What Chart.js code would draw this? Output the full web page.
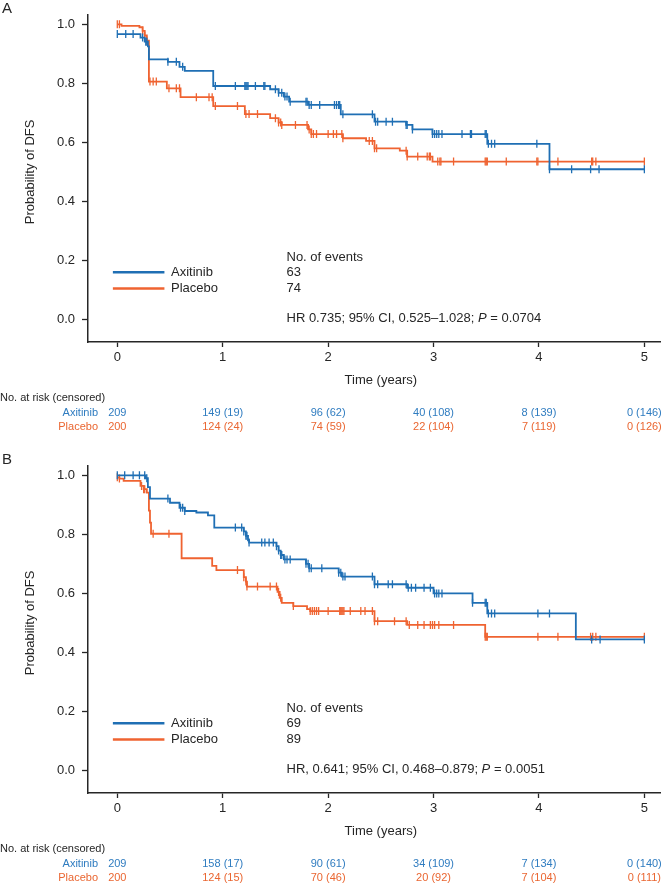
<!DOCTYPE html>
<html>
<head>
<meta charset="utf-8">
<script src="https://cdn.jsdelivr.net/npm/chart.js@4.4.1/dist/chart.umd.min.js"></script>
<style>
  body { margin: 0; background: #fff; width: 666px; height: 885px; overflow: hidden; }
  .panel { position: absolute; left: 0; width: 666px; }
</style>
</head>
<body>
<div class="panel" style="top:0;height:451px"><canvas id="chartA" width="666" height="451"></canvas></div>
<div class="panel" style="top:451px;height:434px"><canvas id="chartB" width="666" height="434"></canvas></div>
<script>
const xTicks = [0, 1, 2, 3, 4, 5];
const yTicks = [0, 0.2, 0.4, 0.6, 0.8, 1.0];
const groups = ['Axitinib', 'Placebo'];

// Panel A - step points (time in years, survival after the step) and censor times
const aAxitinibT = [0, 0.22, 0.26, 0.29, 0.30, 0.48, 0.59, 0.64, 0.91, 1.45, 1.53, 1.58, 1.63, 1.81, 2.12, 2.44, 2.74, 2.80, 2.99, 3.51, 4.10, 5.00];
const aAxitinibS = [0.967, 0.955, 0.941, 0.925, 0.881, 0.873, 0.856, 0.842, 0.791, 0.780, 0.768, 0.755, 0.738, 0.727, 0.695, 0.670, 0.659, 0.644, 0.628, 0.595, 0.509, 0.509];
const aAxitinibCens = [0, 0.08, 0.15, 0.24, 0.27, 0.28, 0.48, 0.56, 0.62, 0.93, 1.12, 1.21, 1.22, 1.23, 1.24, 1.31, 1.39, 1.40, 1.50, 1.53, 1.56, 1.59, 1.61, 1.64, 1.79, 1.80, 1.82, 1.84, 1.92, 2.06, 2.08, 2.10, 2.11, 2.14, 2.42, 2.45, 2.47, 2.55, 2.61, 2.74, 2.75, 2.80, 2.99, 3.01, 3.03, 3.05, 3.08, 3.27, 3.35, 3.36, 3.49, 3.50, 3.52, 3.55, 3.58, 3.98, 4.10, 4.31, 4.49, 4.57, 5.00];
const aPlaceboT = [0, 0.04, 0.21, 0.24, 0.26, 0.28, 0.30, 0.47, 0.60, 0.91, 1.21, 1.45, 1.53, 1.56, 1.81, 1.84, 2.14, 2.36, 2.44, 2.68, 2.75, 2.99, 5.00];
const aPlaceboS = [1.0, 0.995, 0.99, 0.978, 0.962, 0.945, 0.806, 0.783, 0.753, 0.723, 0.696, 0.682, 0.667, 0.659, 0.644, 0.628, 0.614, 0.605, 0.580, 0.572, 0.552, 0.535, 0.535];
const aPlaceboCens = [0, 0.02, 0.24, 0.26, 0.28, 0.31, 0.34, 0.37, 0.49, 0.56, 0.59, 0.75, 0.87, 0.90, 0.93, 1.14, 1.22, 1.25, 1.33, 1.50, 1.53, 1.55, 1.56, 1.69, 1.80, 1.82, 1.84, 1.86, 1.89, 2.00, 2.05, 2.08, 2.13, 2.14, 2.39, 2.42, 2.44, 2.46, 2.74, 2.75, 2.85, 2.94, 2.96, 2.97, 3.04, 3.06, 3.07, 3.19, 3.49, 3.50, 3.51, 3.69, 3.98, 3.99, 4.18, 4.50, 4.51, 4.54, 5.00];
const aEvents = ['63', '74'];
const aHR = ['HR 0.735; 95% CI, 0.525\u20131.028; ', 'P', ' = 0.0704'];
const aRiskAxitinib = ['209', '149 (19)', '96 (62)', '40 (108)', '8 (139)', '0 (146)'];
const aRiskPlacebo = ['200', '124 (24)', '74 (59)', '22 (104)', '7 (119)', '0 (126)'];

// Panel B
const bAxitinibT = [0, 0.27, 0.29, 0.31, 0.50, 0.59, 0.64, 0.75, 0.86, 0.92, 1.20, 1.22, 1.24, 1.25, 1.51, 1.53, 1.55, 1.58, 1.79, 1.82, 2.10, 2.13, 2.44, 2.75, 3.00, 3.37, 3.51, 4.35, 5.00];
const bAxitinibS = [1.0, 0.99, 0.96, 0.921, 0.907, 0.890, 0.879, 0.874, 0.864, 0.823, 0.81, 0.795, 0.78, 0.772, 0.76, 0.745, 0.73, 0.715, 0.70, 0.685, 0.67, 0.657, 0.631, 0.619, 0.600, 0.568, 0.532, 0.444, 0.444];
const bAxitinibCens = [0, 0.07, 0.15, 0.21, 0.26, 0.28, 0.48, 0.60, 0.62, 0.64, 1.12, 1.18, 1.20, 1.22, 1.23, 1.25, 1.37, 1.40, 1.44, 1.48, 1.51, 1.53, 1.55, 1.56, 1.59, 1.61, 1.64, 1.79, 1.81, 1.82, 1.84, 1.94, 2.10, 2.12, 2.14, 2.16, 2.42, 2.44, 2.47, 2.57, 2.61, 2.74, 2.76, 2.79, 2.83, 2.91, 2.97, 3.01, 3.03, 3.05, 3.08, 3.37, 3.49, 3.50, 3.52, 3.55, 3.58, 3.99, 4.10, 4.50, 4.58, 5.00];
const bPlaceboT = [0, 0.02, 0.06, 0.22, 0.25, 0.28, 0.30, 0.31, 0.32, 0.61, 0.90, 0.94, 1.20, 1.22, 1.23, 1.52, 1.54, 1.56, 1.67, 1.80, 1.83, 2.44, 2.75, 3.49, 5.00];
const bPlaceboS = [0.993, 0.989, 0.981, 0.964, 0.953, 0.941, 0.88, 0.84, 0.802, 0.719, 0.693, 0.679, 0.655, 0.64, 0.623, 0.605, 0.585, 0.568, 0.557, 0.547, 0.540, 0.506, 0.493, 0.453, 0.453];
const bPlaceboCens = [0, 0.02, 0.23, 0.25, 0.26, 0.34, 0.49, 1.14, 1.20, 1.22, 1.23, 1.33, 1.45, 1.51, 1.53, 1.55, 1.67, 1.83, 1.85, 1.87, 1.89, 1.91, 2.00, 2.11, 2.12, 2.13, 2.14, 2.15, 2.21, 2.31, 2.35, 2.42, 2.44, 2.47, 2.63, 2.74, 2.77, 2.85, 2.91, 2.97, 2.99, 3.01, 3.05, 3.19, 3.49, 3.50, 3.51, 3.99, 4.18, 4.49, 4.51, 4.54, 5.00];
const bEvents = ['69', '89'];
const bHR = ['HR, 0.641; 95% CI, 0.468\u20130.879; ', 'P', ' = 0.0051'];
const bRiskAxitinib = ['209', '158 (17)', '90 (61)', '34 (109)', '7 (134)', '0 (140)'];
const bRiskPlacebo = ['200', '124 (15)', '70 (46)', '20 (92)', '7 (104)', '0 (111)'];

const BLUE = '#1f6fb4';
const ORANGE = '#ef6331';
const BLUE_TXT = '#2f7cc0';
const ORANGE_TXT = '#ea6631';
const INK = '#262626';
const FONT = "'Liberation Sans', Arial, sans-serif";
const NARROW = "'Liberation Sans Narrow', 'Liberation Sans', Arial, sans-serif";

// value of the step curve at time t (used to place censor marks)
function stepValue(ts, ss, t) {
    let v = ss[0];
    for (let i = 0; i < ts.length; i++) {
        if (ts[i] <= t + 1e-9) v = ss[i];
    }
    return v;
}

function makePanel(id, letter, height, series, events, hr, risk) {
    const datasets = [];
    series.forEach(g => {
        datasets.push({
            type: 'line',
            data: g.t.map((x, i) => ({x: x, y: g.s[i]})),
            stepped: true,
            borderColor: g.color,
            borderWidth: 1.8,
            pointRadius: 0,
            fill: false
        });
        datasets.push({
            type: 'scatter',
            data: g.cens.map(x => ({x: x, y: stepValue(g.t, g.s, x)})),
            pointStyle: 'line',
            rotation: 90,
            pointRadius: 4,
            borderColor: g.color,
            pointBorderColor: g.color,
            borderWidth: 1.3,
            showLine: false
        });
    });

    const extras = {
        id: 'extras',
        afterDraw(chart) {
            const ctx = chart.ctx;
            const xs = chart.scales.x, ys = chart.scales.y;
            const area = chart.chartArea;
            ctx.save();
            ctx.fillStyle = INK;

            // panel letter
            ctx.font = '15px ' + FONT;
            ctx.textAlign = 'left';
            ctx.textBaseline = 'top';
            ctx.fillText(letter, 2, 1);

            // axis titles
            ctx.font = '13px ' + FONT;
            ctx.textAlign = 'center';
            ctx.textBaseline = 'middle';
            ctx.fillText('Time (years)', (xs.getPixelForValue(0) + xs.getPixelForValue(5)) / 2, area.bottom + 38);
            ctx.save();
            ctx.translate(30, (ys.getPixelForValue(0) + ys.getPixelForValue(1)) / 2);
            ctx.rotate(-Math.PI / 2);
            ctx.fillText('Probability of DFS', 0, 0);
            ctx.restore();

            // legend + number of events
            const rowY = [0.16, 0.105];
            ctx.textAlign = 'left';
            ctx.fillText('No. of events', xs.getPixelForValue(1.605), ys.getPixelForValue(0.21));
            series.forEach((g, i) => {
                const y = ys.getPixelForValue(rowY[i]);
                ctx.strokeStyle = g.color;
                ctx.lineWidth = 2.5;
                ctx.beginPath();
                ctx.moveTo(xs.getPixelForValue(-0.042), y);
                ctx.lineTo(xs.getPixelForValue(0.447), y);
                ctx.stroke();
                ctx.fillStyle = INK;
                ctx.fillText(g.label, xs.getPixelForValue(0.51), y);
                ctx.fillText(events[i], xs.getPixelForValue(1.605), y);
            });

            // hazard ratio line with italic P
            let hx = xs.getPixelForValue(1.605);
            const hy = ys.getPixelForValue(0.003);
            hr.forEach((part, i) => {
                ctx.font = (i === 1 ? 'italic ' : '') + '13px ' + FONT;
                ctx.fillText(part, hx, hy);
                hx += ctx.measureText(part).width;
            });

            // number at risk table
            ctx.font = '11px ' + NARROW;
            ctx.textAlign = 'left';
            ctx.fillStyle = INK;
            ctx.fillText('No. at risk (censored)', 0, area.bottom + 56);
            const rows = [area.bottom + 71, area.bottom + 85];
            series.forEach((g, i) => {
                ctx.fillStyle = g.text;
                ctx.textAlign = 'right';
                ctx.fillText(g.label, 98, rows[i]);
                ctx.textAlign = 'center';
                risk[i].forEach((v, k) => {
                    ctx.fillText(v, xs.getPixelForValue(xTicks[k]), rows[i]);
                });
            });
            ctx.restore();
        }
    };

    return new Chart(document.getElementById(id), {
        type: 'line',
        data: {datasets: datasets},
        options: {
            responsive: false,
            animation: false,
            devicePixelRatio: 1,
            layout: {padding: {top: 15, left: 0, right: 1, bottom: 0}},
            plugins: {legend: {display: false}, tooltip: {enabled: false}},
            scales: {
                x: {
                    type: 'linear',
                    min: -0.278,
                    max: 5.155,
                    afterBuildTicks: s => { s.ticks = xTicks.map(v => ({value: v})); },
                    afterFit: s => { s.height = height - 342; },
                    grid: {drawOnChartArea: false, drawTicks: true, tickLength: 5, tickWidth: 1.3, tickColor: INK},
                    border: {display: true, color: INK, width: 1.5},
                    ticks: {color: INK, padding: 3, font: {family: FONT, size: 13}, maxRotation: 0,
                        callback: v => String(v)}
                },
                y: {
                    type: 'linear',
                    min: -0.0762,
                    max: 1.0315,
                    afterBuildTicks: s => { s.ticks = yTicks.map(v => ({value: v})); },
                    afterFit: s => { s.width = 88; },
                    grid: {drawOnChartArea: false, drawTicks: true, tickLength: 6, tickWidth: 1.3, tickColor: INK},
                    border: {display: true, color: INK, width: 1.5},
                    ticks: {color: INK, padding: 7, font: {family: FONT, size: 13},
                        callback: v => v.toFixed(1)}
                }
            }
        },
        plugins: [extras]
    });
}

makePanel('chartA', 'A', 451, [
    {label: groups[0], t: aAxitinibT, s: aAxitinibS, cens: aAxitinibCens, color: BLUE, text: BLUE_TXT},
    {label: groups[1], t: aPlaceboT, s: aPlaceboS, cens: aPlaceboCens, color: ORANGE, text: ORANGE_TXT}
], aEvents, aHR, [aRiskAxitinib, aRiskPlacebo]);

makePanel('chartB', 'B', 434, [
    {label: groups[0], t: bAxitinibT, s: bAxitinibS, cens: bAxitinibCens, color: BLUE, text: BLUE_TXT},
    {label: groups[1], t: bPlaceboT, s: bPlaceboS, cens: bPlaceboCens, color: ORANGE, text: ORANGE_TXT}
], bEvents, bHR, [bRiskAxitinib, bRiskPlacebo]);
</script>
</body>
</html>
